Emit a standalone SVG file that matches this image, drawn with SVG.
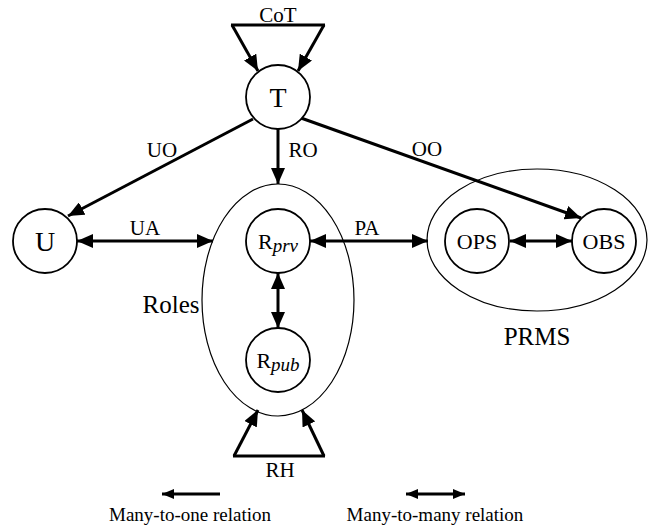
<svg xmlns="http://www.w3.org/2000/svg" width="648" height="530" viewBox="0 0 648 530">
  <defs>
    <marker id="arrow" viewBox="0 0 16 14" markerWidth="16" markerHeight="14" refX="16" refY="7" orient="auto-start-reverse" markerUnits="userSpaceOnUse">
      <path d="M0,0 L16,7 L0,14 z" fill="#000"/>
    </marker>
    <marker id="arrow-sm" viewBox="0 0 12 10" markerWidth="12" markerHeight="10" refX="12" refY="5" orient="auto-start-reverse" markerUnits="userSpaceOnUse">
      <path d="M0,0 L12,5 L0,10 z" fill="#000"/>
    </marker>
    <style>
      .node { fill: #fff; stroke: #000; stroke-width: 1.8; }
      .set { fill: none; stroke: #000; stroke-width: 1.2; }
      .edge { fill: none; stroke: #000; stroke-width: 3; }
      .legend { fill: none; stroke: #000; stroke-width: 3; }
      text { font-family: "Liberation Serif", "Times New Roman", serif; fill: #000; text-anchor: middle; }
      .lbl { font-size: 21px; }
      .big { font-size: 28px; }
      .mid { font-size: 22px; }
      .set-lbl { font-size: 25px; }
      .leg-txt { font-size: 19px; }
      .sub { font-style: italic; font-size: 19px; }
    </style>
  </defs>

  <!-- set outlines -->
  <g id="roles">
    <ellipse class="set" cx="278" cy="300" rx="76" ry="116"/>
    <text class="set-lbl" x="171" y="313">Roles</text>
  </g>
  <g id="prms">
    <ellipse class="set" cx="537" cy="240" rx="110" ry="71"/>
    <text class="set-lbl" x="537" y="345">PRMS</text>
  </g>

  <!-- connectors -->
  <g id="connectors">
    <!-- CoT self-loop on T -->
    <polyline class="edge" points="231,25 325,25"/>
    <line class="edge" x1="232" y1="25" x2="258" y2="71" marker-end="url(#arrow)"/>
    <line class="edge" x1="324" y1="25" x2="298" y2="71" marker-end="url(#arrow)"/>
    <!-- UO, RO, OO -->
    <line class="edge" x1="253" y1="119" x2="68" y2="216" marker-end="url(#arrow)"/>
    <line class="edge" x1="278" y1="129" x2="278" y2="184" marker-end="url(#arrow)"/>
    <line class="edge" x1="301" y1="118" x2="581" y2="218" marker-end="url(#arrow)"/>
    <!-- UA -->
    <line class="edge" x1="77" y1="241" x2="213" y2="241" marker-start="url(#arrow)" marker-end="url(#arrow)"/>
    <!-- PA -->
    <line class="edge" x1="310" y1="241" x2="428" y2="241" marker-start="url(#arrow)" marker-end="url(#arrow)"/>
    <!-- OPS - OBS -->
    <line class="edge" x1="510" y1="241" x2="572" y2="241" marker-start="url(#arrow)" marker-end="url(#arrow)"/>
    <!-- Rprv - Rpub -->
    <line class="edge" x1="278" y1="273" x2="278" y2="328" marker-start="url(#arrow)" marker-end="url(#arrow)"/>
    <!-- RH self-loop on Roles -->
    <polyline class="edge" points="233,456 325,456"/>
    <line class="edge" x1="234" y1="456" x2="258" y2="410" marker-end="url(#arrow)"/>
    <line class="edge" x1="324" y1="456" x2="302" y2="410" marker-end="url(#arrow)"/>

    <!-- edge labels -->
    <text class="lbl" x="278" y="22">CoT</text>
    <text class="lbl" x="162" y="157">UO</text>
    <text class="lbl" x="303" y="157">RO</text>
    <text class="lbl" x="427" y="156">OO</text>
    <text class="lbl" x="145" y="235">UA</text>
    <text class="lbl" x="367" y="235">PA</text>
    <text class="lbl" x="280" y="477">RH</text>
  </g>

  <!-- nodes -->
  <g id="node-T">
    <circle class="node" cx="278" cy="97" r="32"/>
    <text class="big" x="278" y="107">T</text>
  </g>
  <g id="node-U">
    <circle class="node" cx="45" cy="241" r="32"/>
    <text class="big" x="45" y="251">U</text>
  </g>
  <g id="node-Rprv">
    <circle class="node" cx="278" cy="241" r="32"/>
    <text class="mid" x="278" y="249">R<tspan class="sub" dy="3">prv</tspan></text>
  </g>
  <g id="node-Rpub">
    <circle class="node" cx="278" cy="360" r="32"/>
    <text class="mid" x="278" y="368">R<tspan class="sub" dy="3">pub</tspan></text>
  </g>
  <g id="node-OPS">
    <circle class="node" cx="477" cy="241" r="32"/>
    <text class="mid" x="477" y="249">OPS</text>
  </g>
  <g id="node-OBS">
    <circle class="node" cx="604" cy="241" r="32"/>
    <text class="mid" x="604" y="249">OBS</text>
  </g>

  <!-- legend -->
  <g id="legend">
    <line class="legend" x1="162" y1="494" x2="220" y2="494" marker-start="url(#arrow-sm)"/>
    <text class="leg-txt" x="190" y="521">Many-to-one relation</text>
    <line class="legend" x1="406" y1="494" x2="465" y2="494" marker-start="url(#arrow-sm)" marker-end="url(#arrow-sm)"/>
    <text class="leg-txt" x="435" y="521">Many-to-many relation</text>
  </g>
</svg>
